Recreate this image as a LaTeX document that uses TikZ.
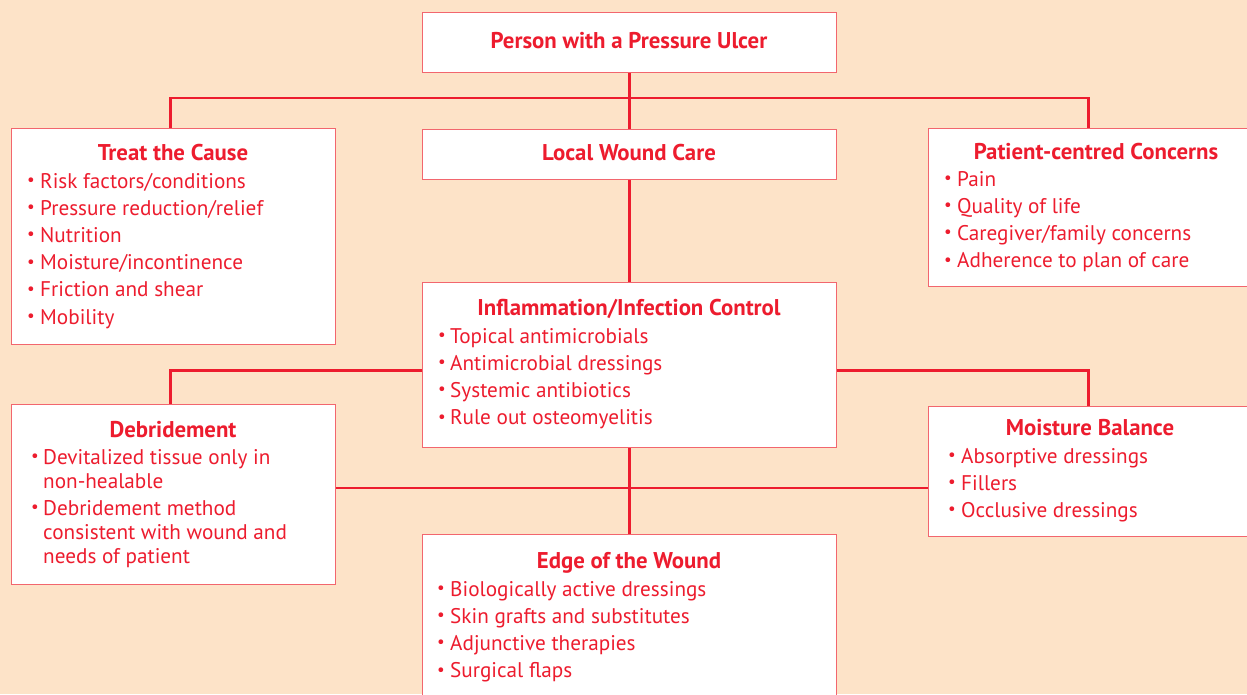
\documentclass[tikz,border=0pt]{standalone}
\usepackage{fontspec}
\usepackage{graphicx}
\setmainfont{PT Sans}
\definecolor{bgpeach}{HTML}{FDE3C8}
\definecolor{lred}{HTML}{ED1C2E}
\definecolor{boxred}{HTML}{F2666E}
\newlength\bw
\newcommand\bl{\makebox[\bw][l]{\hspace{1pt}\raisebox{0.12em}{\scalebox{0.8}{\textbullet}}}}
\tikzset{
  box/.style={draw=boxred, line width=1.3pt, fill=white, inner sep=0pt, anchor=north west},
  ttl/.style={font=\bfseries\fontsize{22.8}{27.2}\selectfont, text=lred, anchor=base, inner sep=0pt},
  lst/.style={font=\fontsize{21.2}{27.2}\selectfont, text=lred, anchor=base west, inner sep=0pt},
  conn/.style={draw=lred, line width=2.4pt}
}
\begin{document}
\begin{tikzpicture}[x=1pt,y=-1pt]
\useasboundingbox (0,0) rectangle (1247,694);
\fill[bgpeach] (0,0) rectangle (1247,694);
% boxes
\node[box, minimum width=414pt, minimum height=60pt] (top) at (422,12) {};
\node[box, minimum width=414pt, minimum height=50pt] (lwc) at (422,129) {};
\node[box, minimum width=324pt, minimum height=216pt] (tc) at (11,128) {};
\node[box, minimum width=320pt, minimum height=158pt] (pc) at (928,128) {};
\node[box, minimum width=414pt, minimum height=165pt] (inf) at (422,282) {};
\node[box, minimum width=324pt, minimum height=180pt] (deb) at (11,404) {};
\node[box, minimum width=320pt, minimum height=130pt] (mb) at (928,406) {};
\node[box, minimum width=414pt, minimum height=170pt] (edge) at (422,534) {};
% connectors
\coordinate (j1) at (630,98);
\coordinate (j2) at (630,488);
\draw[conn] (top.south -| lwc.north) -- (lwc.north);
\draw[conn] ([xshift=-3pt]tc.north) |- (j1) -| (pc.north);
\draw[conn] (lwc.south) -- (inf.north);
\draw[conn] ([yshift=-5.5pt]inf.west) -| ([xshift=-3pt]deb.north);
\draw[conn] ([yshift=-5.5pt]inf.east) -| (mb.north);
\draw[conn] (inf.south) -- (edge.north);
\draw[conn] (j2 -| deb.east) -- (j2 -| mb.west);
% texts
\node[ttl] (ttop) at (629,48) {Person with a Pressure Ulcer};
\node[ttl] (tlwc) at (629,160) {Local Wound Care};
\node[ttl] (ttc) at (173,160) {Treat the Cause};
\node[lst] (ltc) at (26,188) {\setlength\bw{14pt}\begin{tabular}[t]{@{}l@{}}
\bl Risk factors/conditions\\ \bl Pressure reduction/relief\\ \bl Nutrition\\
\bl Moisture/incontinence\\ \bl Friction and shear\\ \bl Mobility\end{tabular}};
\node[ttl] (tpc) at (1096,159) {Patient-centred Concerns};
\node[lst] (lpc) at (943,186) {\setlength\bw{14pt}\begin{tabular}[t]{@{}l@{}}
\bl Pain\\ \bl Quality of life\\ \bl Caregiver/family concerns\\ \bl Adherence to plan of care\end{tabular}};
\node[ttl] (tinf) at (629,315) {Inflammation/Infection Control};
\node[lst] (linf) at (437,343) {\setlength\bw{13pt}\begin{tabular}[t]{@{}l@{}}
\bl Topical antimicrobials\\ \bl Antimicrobial dressings\\ \bl Systemic antibiotics\\ \bl Rule out osteomyelitis\end{tabular}};
\node[ttl] (tdeb) at (173,437) {Debridement};
\node[lst] (ldeb) at (30,464) {\setlength\bw{13pt}\begin{tabular}[t]{@{}l@{}}
\bl Devitalized tissue only in\\[-3pt] \hspace*{\bw}non-healable\\ \bl Debridement method\\[-3pt]
\hspace*{\bw}consistent with wound and\\[-3pt] \hspace*{\bw}needs of patient\end{tabular}};
\node[ttl] (tmb) at (1090,435) {Moisture Balance};
\node[lst] (lmb) at (947,463) {\setlength\bw{14pt}\begin{tabular}[t]{@{}l@{}}
\bl Absorptive dressings\\ \bl Fillers\\ \bl Occlusive dressings\end{tabular}};
\node[ttl] (tedge) at (629,568) {Edge of the Wound};
\node[lst] (ledge) at (436,596) {\setlength\bw{14pt}\begin{tabular}[t]{@{}l@{}}
\bl Biologically active dressings\\ \bl Skin grafts and substitutes\\ \bl Adjunctive therapies\\ \bl Surgical flaps\end{tabular}};
\end{tikzpicture}
\end{document}
